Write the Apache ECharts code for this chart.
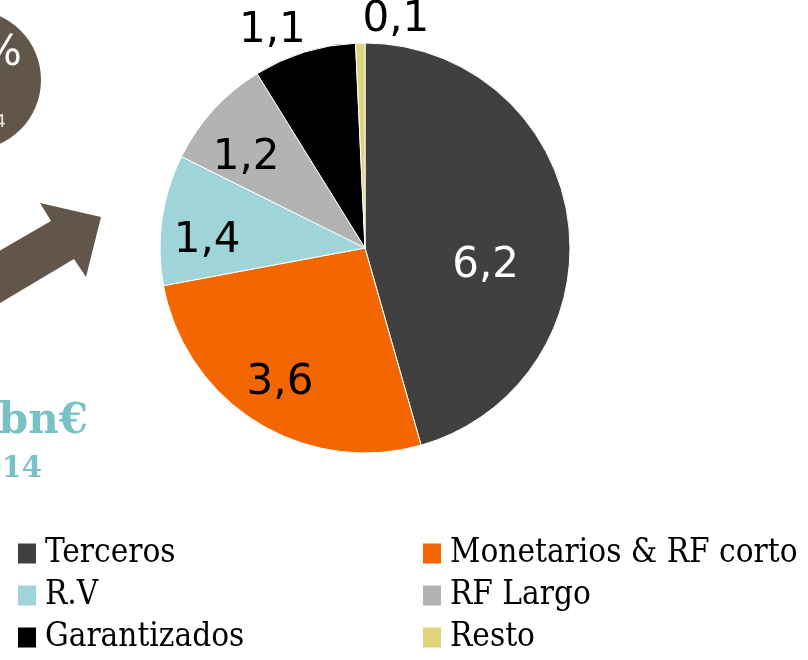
<!DOCTYPE html>
<html>
<head>
<meta charset="utf-8">
<script src="https://cdn.jsdelivr.net/npm/echarts@6/dist/echarts.min.js"></script>
<style>html,body{margin:0;padding:0;background:#fff}#c{width:808px;height:660px}</style>
</head>
<body>
<div id="c"></div>
<script>
// ---- data ----
const categories = ['Terceros', 'Monetarios & RF corto', 'R.V', 'RF Largo', 'Garantizados', 'Resto'];
const values = [6.2, 3.6, 1.4, 1.2, 1.1, 0.1];
const valueLabels = ['6,2', '3,6', '1,4', '1,2', '1,1', '0,1'];

// ---- style ----
const colors = ['#404040', '#f46700', '#9fd4d8', '#b3b3b3', '#000000', '#dfd47a'];
const labelColors = ['#ffffff', '#000000', '#000000', '#000000', '#000000', '#000000'];
const center = [365, 248];
const radius = 205;
// label placement: [distance from centre, angle clockwise from top in degrees]
const labelPolar = [[122, 98.5], [159.5, 212.2], [158, 272.5], [149, 307.1], [236, 336.9], [230, 7.7]];

const chart = echarts.init(document.getElementById('c'), null, {renderer: 'canvas'});
const legendText = {fontFamily: '"DejaVu Serif Condensed", "DejaVu Serif"', fontSize: 33, color: '#000', lineHeight: 33, padding: [0, 0, 0, 4]};

chart.setOption({
  animation: false,
  color: colors,
  legend: [
    {
      data: [categories[0], categories[2], categories[4]],
      orient: 'vertical', left: 18, top: 537, padding: 0,
      itemWidth: 18, itemHeight: 20, itemGap: 9,
      itemStyle: {borderWidth: 0},
      textStyle: legendText, icon: 'rect'
    },
    {
      data: [categories[1], categories[3], categories[5]],
      orient: 'vertical', left: 423, top: 537, padding: 0,
      itemWidth: 18, itemHeight: 20, itemGap: 9,
      itemStyle: {borderWidth: 0},
      textStyle: legendText, icon: 'rect'
    }
  ],
  graphic: [
    {type: 'circle', shape: {cx: -29, cy: 80, r: 70}, style: {fill: '#62554a'}, z: 1},
    {type: 'text', style: {x: 22, y: 54, text: '%', fill: '#ffffff', font: '42px "DejaVu Sans"', textAlign: 'right', textVerticalAlign: 'middle'}, z: 2},
    {type: 'text', style: {x: 6, y: 122, text: '4', fill: '#e8e2dc', font: '18px "DejaVu Sans"', textAlign: 'right', textVerticalAlign: 'middle'}, z: 2},
    {type: 'polygon', shape: {points: [[-20, 315], [74, 259], [86, 277], [101, 217], [40, 203], [51, 221], [-20, 262]]}, style: {fill: '#62554a'}, z: 1},
    {type: 'text', style: {x: 88, y: 422, text: 'bn€', fill: '#78c2c7', font: 'bold 42px "DejaVu Serif"', textAlign: 'right', textVerticalAlign: 'middle'}, z: 2},
    {type: 'text', style: {x: 42, y: 469, text: '2014', fill: '#78c2c7', font: 'bold 29px "DejaVu Serif"', textAlign: 'right', textVerticalAlign: 'middle'}, z: 2}
  ],
  series: [{
    type: 'pie',
    center: center,
    radius: radius,
    startAngle: 90,
    clockwise: true,
    avoidLabelOverlap: false,
    itemStyle: {borderColor: '#ffffff', borderWidth: 1},
    emphasis: {disabled: true},
    label: {
      show: true,
      position: 'inside',
      fontFamily: 'DejaVu Sans',
      fontSize: 42,
      formatter: p => valueLabels[p.dataIndex]
    },
    labelLine: {show: false},
    labelLayout: function (p) {
      const pl = labelPolar[p.dataIndex];
      const a = pl[1] * Math.PI / 180;
      return {
        x: center[0] + pl[0] * Math.sin(a),
        y: center[1] - pl[0] * Math.cos(a),
        align: 'center',
        verticalAlign: 'middle'
      };
    },
    data: categories.map((c, i) => ({
      name: c,
      value: values[i],
      label: {color: labelColors[i]}
    }))
  }]
});
</script>
</body>
</html>
